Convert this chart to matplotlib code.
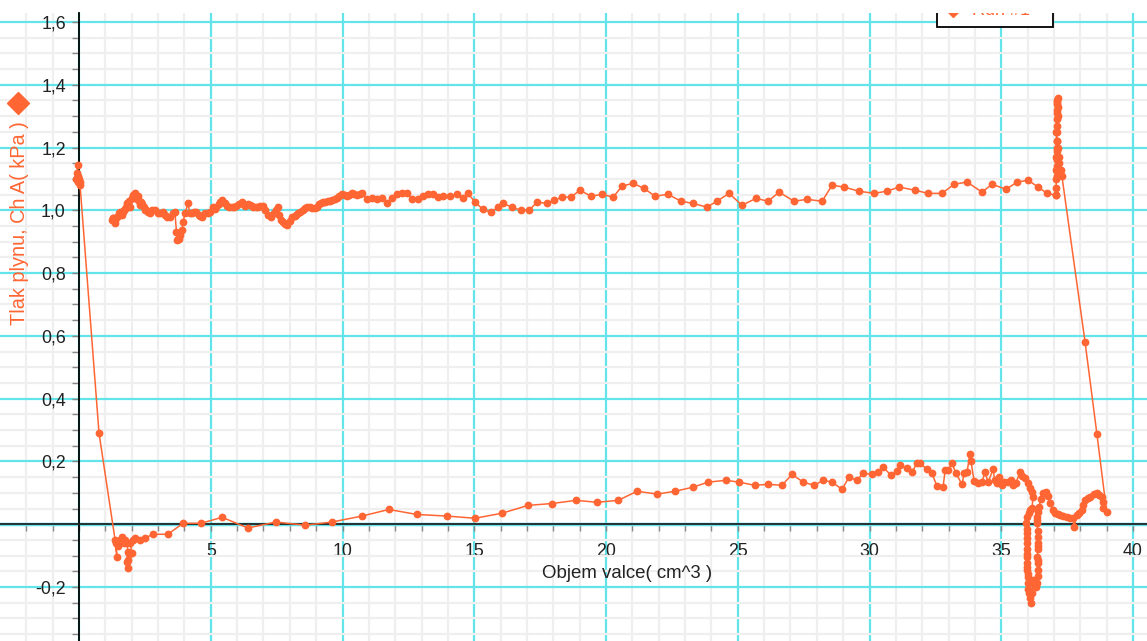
import numpy as np
import matplotlib
matplotlib.use("Agg")
import matplotlib.pyplot as plt
from matplotlib.ticker import MultipleLocator, FuncFormatter
from matplotlib.patches import Rectangle

plt.rcParams['font.family'] = ['Liberation Sans', 'DejaVu Sans']

# start: pressure near V=0, then drop to bottom branch
start_v = [-0.05, -0.08, -0.05, -0.1, -0.05, 0.0, 0.03, 0.04, 0.76]
start_p = [1.145, 1.12, 1.11, 1.10, 1.09, 1.10, 1.09, 1.08, 0.29]

# bottom branch (expansion), left to right
bottom_v = [1.37, 1.44, 1.40, 1.48, 1.55, 1.63, 1.70, 1.76, 1.82, 1.86, 1.86, 1.86, 1.82, 1.90,
            2.00, 1.95, 2.05, 2.13, 2.30, 2.50, 2.80, 3.37, 3.95, 4.63, 5.43, 6.41, 7.47,
            8.58, 9.60, 10.74, 11.76, 12.83, 13.97, 15.03, 16.05, 17.04, 17.95, 18.86,
            19.66, 20.46, 21.18, 21.94, 22.62, 23.30, 23.87, 24.55, 25.05, 25.65, 26.15,
            26.68, 27.06, 27.48, 27.90, 28.24, 28.58, 28.96, 29.22, 29.52, 29.75, 30.10,
            30.32, 30.51, 30.82, 31.04, 31.16, 31.42, 31.61, 31.80, 31.92, 32.18, 32.37,
            32.56, 32.79, 32.87, 32.98, 33.13, 33.28, 33.51, 33.59, 33.70, 33.81, 33.85,
            33.97, 34.12, 34.27, 34.38, 34.50, 34.69, 34.75, 34.84, 34.90, 35.03, 35.10,
            35.26, 35.35, 35.45, 35.55, 35.71, 35.80, 35.90, 36.00, 36.10, 36.17, 36.20]
bottom_p = [-0.05, -0.105, -0.06, -0.07, -0.05, -0.04, -0.06, -0.05, -0.06, -0.09, -0.115, -0.14, -0.12, -0.095,
            -0.093, -0.06, -0.05, -0.045, -0.05, -0.045, -0.032, -0.032, 0.003, 0.003, 0.022, -0.012, 0.007,
            -0.003, 0.007, 0.026, 0.047, 0.031, 0.026, 0.019, 0.035, 0.060, 0.066, 0.076,
            0.070, 0.076, 0.105, 0.096, 0.105, 0.118, 0.134, 0.140, 0.134, 0.124, 0.127,
            0.124, 0.159, 0.134, 0.124, 0.140, 0.134, 0.111, 0.150, 0.140, 0.162, 0.159,
            0.166, 0.182, 0.156, 0.169, 0.188, 0.178, 0.166, 0.194, 0.194, 0.175, 0.162,
            0.121, 0.118, 0.172, 0.172, 0.194, 0.162, 0.127, 0.162, 0.166, 0.223, 0.200,
            0.137, 0.130, 0.134, 0.166, 0.134, 0.175, 0.140, 0.130, 0.150, 0.124, 0.135,
            0.134, 0.140, 0.124, 0.130, 0.166, 0.155, 0.146, 0.130, 0.115, 0.102, 0.086]

# dip near V=36 and end of expansion
dip_v = [36.17, 36.10, 36.05, 35.98, 35.94, 35.96, 35.98, 35.98, 35.97, 35.98, 35.98, 35.97,
         35.99, 35.98, 35.99, 36.00, 36.01, 36.02, 36.03, 36.05, 36.08, 36.12, 36.17, 36.20,
         36.25, 36.30, 36.36, 36.38, 36.40, 36.38, 36.39, 36.36, 36.40, 36.38, 36.40, 36.39,
         36.38, 36.36, 36.37, 36.36, 36.38, 36.43, 36.50, 36.58, 36.70, 36.77, 36.85, 36.95,
         37.04, 37.15, 37.23, 37.35, 37.50, 37.60, 37.72, 37.76, 37.87, 37.95, 38.06, 38.12,
         38.18, 38.28, 38.37, 38.50, 38.63, 38.72, 38.82, 38.86, 38.86, 39.00]
dip_p = [0.051, 0.045, 0.035, 0.022, 0.003, -0.015, -0.029, -0.045, -0.06, -0.08, -0.095, -0.105,
         -0.125, -0.136, -0.147, -0.160, -0.168, -0.188, -0.205, -0.22, -0.235, -0.252, -0.22, -0.178,
         -0.19, -0.20, -0.188, -0.165, -0.147, -0.125, -0.115, -0.105, -0.08, -0.07, -0.06, -0.04,
         -0.02, 0.003, 0.012, 0.022, 0.04, 0.054, 0.08, 0.099, 0.102, 0.09, 0.067, 0.045,
         0.035, 0.032, 0.029, 0.025, 0.022, 0.02, 0.019, -0.01, 0.029, 0.035, 0.045, 0.06,
         0.077, 0.082, 0.086, 0.095, 0.099, 0.094, 0.086, 0.07, 0.051, 0.038]

# compression back up, spike at V~37
rise_v = [38.63, 38.18, 37.30, 37.25, 37.20, 37.18, 37.15, 37.12, 37.10, 37.13, 37.15, 37.12,
          37.10, 37.13, 37.15, 37.12, 37.14, 37.12, 37.10, 37.08, 37.10, 37.12, 37.10, 37.08,
          37.11, 37.10, 37.08, 37.10, 37.09, 37.08, 37.08]
rise_p = [0.287, 0.58, 1.11, 1.13, 1.15, 1.17, 1.20, 1.22, 1.25, 1.27, 1.30, 1.32,
          1.34, 1.35, 1.357, 1.345, 1.33, 1.31, 1.29, 1.25, 1.22, 1.20, 1.19, 1.17,
          1.16, 1.14, 1.13, 1.11, 1.10, 1.07, 1.048]

# top branch, listed left to right
top_v = [1.25, 1.28, 1.30, 1.35, 1.40, 1.45, 1.50, 1.53, 1.56, 1.62, 1.66, 1.70, 1.74, 1.78,
         1.82, 1.86, 1.90, 1.95, 2.00, 2.05, 2.09, 2.13, 2.17, 2.20, 2.25, 2.28, 2.32, 2.36,
         2.40, 2.45, 2.50, 2.55, 2.60, 2.69, 2.78, 2.88, 2.98, 3.07, 3.17, 3.26,
         3.35, 3.45, 3.55, 3.64, 3.70, 3.72, 3.76, 3.80, 3.85, 3.91, 3.95, 4.02, 4.14, 4.20, 4.30,
         4.38, 4.45, 4.55, 4.61, 4.67, 4.78, 4.90, 4.97, 5.09, 5.15, 5.20, 5.30, 5.36, 5.43, 5.55, 5.62,
         5.70, 5.80, 5.88, 5.95, 6.08, 6.19, 6.30, 6.40, 6.48, 6.55, 6.62, 6.70, 6.78, 6.85, 6.98,
         7.07, 7.17, 7.30, 7.40, 7.48, 7.55, 7.60, 7.67, 7.74, 7.80, 7.89, 8.00, 8.10, 8.18, 8.25,
         8.32, 8.40, 8.50, 8.58, 8.66, 8.75, 8.85, 8.95, 9.02, 9.10, 9.18, 9.26, 9.35, 9.45, 9.52,
         9.60, 9.70, 9.79, 9.88, 9.98, 10.08, 10.17, 10.26, 10.36, 10.45, 10.55, 10.65, 10.74,
         10.93, 11.12, 11.31, 11.50, 11.69, 11.88, 12.07,
         12.26, 12.45, 12.64, 12.87, 13.06, 13.25, 13.43, 13.62, 13.81, 14.08, 14.35, 14.57,
         14.76, 15.03, 15.33, 15.64, 15.90, 16.09, 16.43, 16.77, 17.08, 17.38, 17.76, 18.03,
         18.33, 18.67, 19.01, 19.43, 19.85, 20.27, 20.61, 21.02, 21.44, 21.86, 22.35, 22.85,
         23.30, 23.83, 24.21, 24.67, 25.16, 25.69, 26.15, 26.57, 27.13, 27.63, 28.20, 28.58,
         29.03, 29.60, 30.17, 30.66, 31.12, 31.73, 32.22, 32.75, 33.21, 33.70, 34.27, 34.65,
         35.18, 35.60, 36.02, 36.40, 36.74, 37.08]
top_p = [0.968, 0.975, 0.975, 0.960, 0.975, 0.980, 0.990, 0.985, 0.994, 0.985, 0.995, 1.000, 1.005, 1.010,
         1.022, 1.015, 1.030, 1.010, 1.040, 1.048, 1.040, 1.054, 1.045, 1.035, 1.045, 1.030, 1.016, 1.025,
         1.020, 1.010, 1.000, 1.000, 0.995, 0.990, 1.000, 1.000, 0.990, 0.990, 0.995, 0.985,
         0.980, 0.978, 0.990, 0.994, 0.930, 0.905, 0.908, 0.910, 0.920, 0.936, 0.962, 0.990, 1.022, 0.990, 0.990,
         0.995, 0.994, 0.985, 0.982, 0.978, 0.990, 0.990, 0.994, 1.010, 1.005, 1.010, 1.020, 1.025, 1.032, 1.022, 1.015,
         1.010, 1.010, 1.012, 1.015, 1.020, 1.026, 1.015, 1.020, 1.018, 1.015, 1.012, 1.010, 1.012, 1.015, 1.015,
         1.000, 0.984, 0.978, 0.990, 1.000, 1.010, 0.984, 0.970, 0.962, 0.955, 0.952, 0.965, 0.978, 0.982, 0.985,
         0.990, 0.994, 1.000, 1.006, 1.010, 1.010, 1.008, 1.006, 1.012, 1.020, 1.022, 1.026, 1.028, 1.030, 1.031,
         1.032, 1.036, 1.040, 1.046, 1.051, 1.048, 1.045, 1.050, 1.054, 1.051, 1.048, 1.052, 1.054,
         1.035, 1.038, 1.035, 1.040, 1.022, 1.040, 1.051,
         1.054, 1.054, 1.035, 1.035, 1.045, 1.051, 1.051, 1.042, 1.045, 1.045, 1.051, 1.038,
         1.054, 1.026, 1.003, 0.994, 1.010, 1.022, 1.010, 1.000, 1.000, 1.026, 1.022, 1.032,
         1.042, 1.042, 1.064, 1.045, 1.051, 1.042, 1.077, 1.086, 1.070, 1.045, 1.051, 1.029,
         1.022, 1.010, 1.029, 1.054, 1.016, 1.038, 1.029, 1.058, 1.029, 1.035, 1.029, 1.080,
         1.074, 1.061, 1.054, 1.061, 1.074, 1.064, 1.054, 1.054, 1.083, 1.090, 1.058, 1.083,
         1.067, 1.090, 1.096, 1.074, 1.054, 1.048]

vol = start_v + bottom_v + dip_v + rise_v + top_v[::-1]
press = start_p + bottom_p + dip_p + rise_p + top_p[::-1]

orange = '#ff6633'
cyan = '#62e4ea'

fig = plt.figure(figsize=(11.47, 6.41), dpi=100)
ax = fig.add_axes([0, 0, 1, 628 / 641])

ax.set_xlim(-2.998, 40.53)
ax.set_ylim(-0.372, 1.6286)

# grid
ax.xaxis.set_major_locator(MultipleLocator(5))
ax.xaxis.set_minor_locator(MultipleLocator(1))
ax.yaxis.set_major_locator(MultipleLocator(0.2))
ax.yaxis.set_minor_locator(MultipleLocator(0.05))
ax.set_axisbelow(True)
ax.grid(which='minor', color='#efefef', lw=1.6)
ax.grid(which='major', color=cyan, lw=1.6)
ax.axhline(0, color=cyan, lw=2.5, zorder=1)

for s in ['top', 'right']:
    ax.spines[s].set_visible(False)
ax.spines['left'].set_position(('data', 0))
ax.spines['bottom'].set_position(('data', 0))
ax.spines['left'].set_color('black')
ax.spines['bottom'].set_color('#222222')
ax.spines['left'].set_linewidth(1.3)
ax.spines['bottom'].set_linewidth(1.3)

def fmt(v, pos):
    if abs(v) < 1e-9:
        return ''
    if abs(v - round(v)) < 1e-9 and v > 2:
        return '%d' % round(v)
    return ('%.1f' % v).replace('.', ',')

ax.xaxis.set_major_formatter(FuncFormatter(fmt))
ax.yaxis.set_major_formatter(FuncFormatter(fmt))
ax.tick_params(which='both', direction='out', color='#888888', length=5, width=1)
ax.tick_params(axis='x', which='major', labelsize=12.8, pad=8.5, labelcolor='#222222')
ax.tick_params(axis='y', which='major', labelsize=12.8, pad=4.5, labelcolor='#222222')

ax.plot(vol, press, color=orange, lw=1.1, marker='o', ms=4.6, mec=orange, mfc=orange, zorder=3)

ax.text(627 / 1147, (641 - 574) / 628, 'Objem valce( cm^3 )', transform=ax.transAxes,
        ha='center', va='center', fontsize=13.4, color='#222222')

fig.text(20 / 1147, 1 - 223 / 641, 'Tlak plynu, Ch A( kPa )', rotation=90,
         ha='center', va='center', fontsize=14.3, color=orange)
ax.plot([18 / 1147], [(641 - 103) / 628], marker='D', ms=11, color=orange,
        transform=ax.transAxes, clip_on=False)

# legend box, mostly cut off at the top
ax.add_patch(Rectangle((937 / 1147, (641 - 27) / 628), (1053 - 937) / 1147, 0.1,
                       transform=ax.transAxes, facecolor='white', edgecolor='black',
                       lw=1.3, zorder=5, clip_on=True))
ax.plot([953 / 1147], [(641 - 11) / 628], marker='D', ms=6, color=orange,
        transform=ax.transAxes, zorder=6, clip_on=True)
ax.text(1001 / 1147, (641 - 11) / 628, 'Run #1', transform=ax.transAxes,
        ha='center', va='center', fontsize=13, color=orange, zorder=6, clip_on=True)

fig.savefig('out.png', dpi=100)
